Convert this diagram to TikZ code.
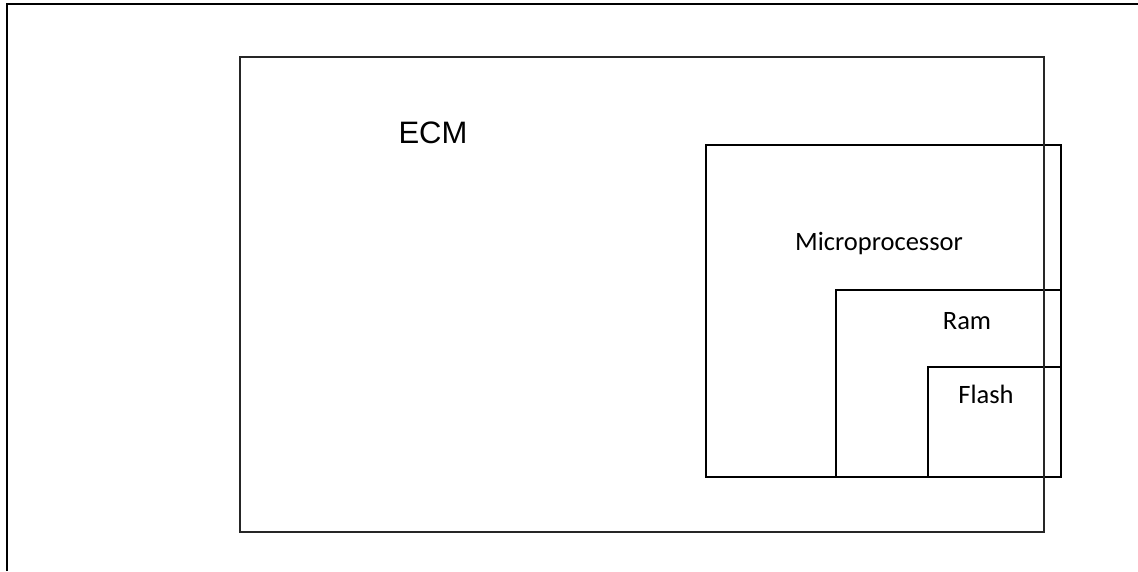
\documentclass[tikz,border=0pt]{standalone}
\usepackage{fontspec}
\setmainfont{Carlito}
\newfontfamily\arialfont{Liberation Sans}
\begin{document}
\begin{tikzpicture}[x=1pt,y=-1pt,
  box/.style={draw=black,line width=2pt},
  lbl/.style={inner sep=0pt,anchor=base,font=\fontsize{26.5}{30}\selectfont}]
\useasboundingbox (0,0) rectangle (1138,571);
\fill[white] (0,0) rectangle (1138,571);
\coordinate (fa) at (7,571);
\coordinate (fb) at (7,4);
\coordinate (fc) at (1138,4);
\draw[line width=2.2pt] (fa) -- (fb) -- (fc);
\node[box,minimum width=355pt,minimum height=332pt,inner sep=0pt] (mp) at (883.5,311) {};
\node[box,minimum width=225pt,minimum height=187pt,inner sep=0pt] (ram) at (948.5,383.5) {};
\node[box,minimum width=133pt,minimum height=110pt,inner sep=0pt] (flash) at (994.5,422) {};
\node[box,draw=black!85,minimum width=804pt,minimum height=475pt,inner sep=0pt] (ecm) at (642,294.5) {};
\node[lbl,font=\arialfont\fontsize{31}{35}\selectfont] (tecm) at (433,143) {ECM};
\node[lbl] (tmp) at (879,250) {Microprocessor};
\node[lbl] (tram) at (967,329) {Ram};
\node[lbl] (tfl) at (986,403) {Flash};
\end{tikzpicture}
\end{document}
